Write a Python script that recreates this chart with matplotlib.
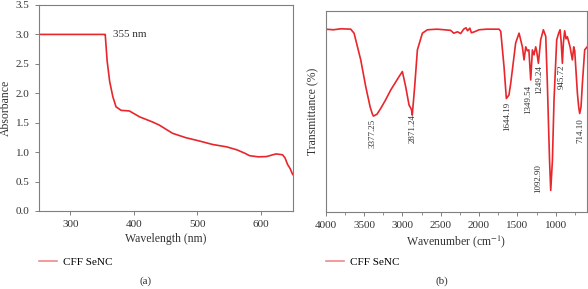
import numpy as np
import matplotlib
matplotlib.use("Agg")
import matplotlib.pyplot as plt
from matplotlib.ticker import MultipleLocator

plt.rcParams['font.family'] = ['Liberation Serif', 'DejaVu Serif']
plt.rcParams['mathtext.fontset'] = 'stix'

RED = '#e8262b'
GRAY = '#7f7f7f'

# (a) UV-vis absorbance
uv_wl = [250, 300, 354, 355, 358, 362, 367, 372, 380, 393, 409, 430, 440, 461,
         482, 503, 524, 546, 562, 575, 582, 596, 609, 617, 624, 634, 638, 642, 646, 650]
uv_abs = [3.0, 3.0, 3.0, 3.0, 2.55, 2.2, 1.94, 1.77, 1.71, 1.70, 1.60, 1.51, 1.46, 1.32,
          1.245, 1.19, 1.13, 1.09, 1.04, 0.98, 0.94, 0.92, 0.925, 0.95, 0.97, 0.955, 0.90, 0.79, 0.72, 0.62]

# (b) FTIR transmittance (arbitrary scale)
ir_wn = [4000, 3900, 3800, 3674, 3630, 3543, 3478, 3420, 3391, 3377, 3330, 3283, 3220, 3152,
         3043, 3000, 2957, 2913, 2891, 2880, 2871, 2840, 2804, 2739, 2674, 2550, 2450, 2370,
         2330, 2280, 2240, 2200, 2170, 2150, 2120, 2100, 2060, 2000, 1900, 1800, 1739, 1717,
         1674, 1644, 1610, 1587, 1522, 1478, 1435, 1413, 1391, 1370, 1350, 1326, 1304, 1283,
         1261, 1249, 1226, 1196, 1161, 1130, 1109, 1093, 1080, 1065, 1043, 1022, 987, 960,
         943, 930, 913, 900, 883, 865, 848, 813, 783, 765, 752, 717, 700, 687, 670, 652, 622, 590]
ir_tr = [90.8, 90.5, 91.0, 90.8, 88.8, 75.5, 62.2, 52.0, 48.5, 47.5, 48.5, 51.3, 55.5, 60.5,
         67.2, 69.7, 62.2, 53.0, 51.5, 50.5, 48.0, 62.0, 80.5, 88.8, 90.5, 90.8, 90.5, 90.2,
         88.8, 89.5, 88.6, 90.8, 91.5, 90.0, 91.3, 89.0, 89.5, 90.5, 90.8, 90.8, 90.8, 89.7,
         72.0, 56.3, 58.0, 63.8, 84.0, 88.8, 82.0, 75.5, 82.0, 80.0, 80.5, 65.5, 80.5, 78.0,
         82.0, 80.0, 73.8, 85.5, 90.5, 87.2, 63.8, 42.0, 25.0, 10.5, 25.5, 55.5, 85.5, 89.0,
         90.5, 85.0, 73.8, 84.0, 90.0, 86.0, 87.0, 82.0, 75.5, 82.0, 80.0, 58.8, 52.0, 48.8,
         52.0, 63.8, 80.5, 82.0]

peak_labels = ['3377.25', '2871.24', '1644.19', '1349.54', '1249.24', '1092.90', '945.72', '714.10']
peak_x = [3383, 2861, 1630, 1357, 1217, 1226, 922, 680]
peak_y = [46.3, 48.8, 54.7, 63.0, 73.0, 23.8, 73.0, 46.3]

fig = plt.figure(figsize=(5.88, 2.89), dpi=100)
ax1 = fig.add_axes([38.5/588, 1-211/289, (292.7-38.5)/588, 206/289])
ax2 = fig.add_axes([325.7/588, 1-211.5/289, (587.3-325.7)/588, (211.5-10.7)/289])

for ax in (ax1, ax2):
    for s in ax.spines.values():
        s.set_color(GRAY)
        s.set_linewidth(0.8)
    ax.tick_params(colors='#333333', labelsize=8, length=3, width=0.7, color=GRAY)

# panel (a)
l1, = ax1.plot(uv_wl, uv_abs, color=RED, lw=1.2, label='CFF SeNC')
ax1.set_xlim(250, 650)
ax1.set_ylim(0, 3.5)
ax1.set_xticks([300, 400, 500, 600])
ax1.set_yticks(np.arange(0, 3.51, 0.5))
ax1.yaxis.set_major_formatter(matplotlib.ticker.FormatStrFormatter('%.1f'))
ax1.set_xlabel('Wavelength (nm)', fontsize=8.5, color='#333333', labelpad=3)
ax1.set_ylabel('Absorbance', fontsize=8.5, color='#333333')
ax1.yaxis.set_label_coords(-0.105, 0.5)
ax1.text(367, 3.0, '355 nm', fontsize=8, color='#333333', ha='left', va='center')
leg1 = ax1.legend(loc='center left', bbox_to_anchor=(39/588, 1-262/289),
                  bbox_transform=fig.transFigure, frameon=False, fontsize=8,
                  handlelength=1.6, handletextpad=0.6, borderpad=0, borderaxespad=0)
leg1.legend_handles[0].set_alpha(0.55)

# panel (b)
l2, = ax2.plot(ir_wn, ir_tr, color=RED, lw=1.2, label='CFF SeNC')
ax2.set_xlim(4000, 588)
ax2.set_ylim(0, 100)
ax2.set_yticks([])
ax2.xaxis.set_major_locator(MultipleLocator(500))
ax2.xaxis.set_minor_locator(MultipleLocator(250))
ax2.tick_params(axis='x', which='minor', length=2, width=0.6, color=GRAY)
ax2.set_xlabel('Wavenumber (cm$^{-1}$)', fontsize=8.5, color='#333333', labelpad=3)
ax2.set_ylabel('Transmittance (%)', fontsize=8.5, color='#333333')
ax2.yaxis.set_label_coords(-0.024, 0.5)
for lab, x, y in zip(peak_labels, peak_x, peak_y):
    ax2.text(x, y, lab, rotation=90, fontsize=6.5, color='#333333', ha='center', va='top')
leg2 = ax2.legend(loc='center left', bbox_to_anchor=(326/588, 1-262/289),
                  bbox_transform=fig.transFigure, frameon=False, fontsize=8,
                  handlelength=1.6, handletextpad=0.6, borderpad=0, borderaxespad=0)
leg2.legend_handles[0].set_alpha(0.55)

fig.text(146/588, 1-281/289, '(a)', fontsize=8, color='#333333', ha='center', va='center')
fig.text(442/588, 1-281/289, '(b)', fontsize=8, color='#333333', ha='center', va='center')

fig.savefig('out.png', dpi=100)
